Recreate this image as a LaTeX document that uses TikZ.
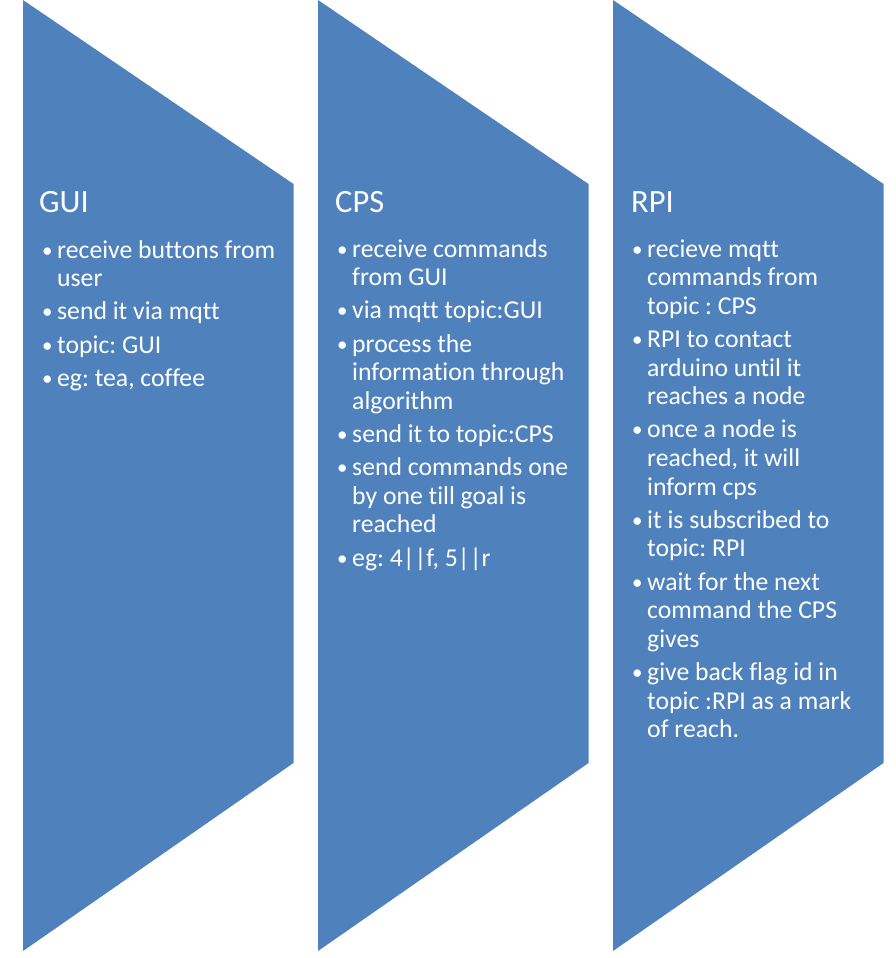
\documentclass[tikz,border=0pt]{standalone}
\usepackage{fontspec}
\setmainfont{Carlito}[Ligatures={NoCommon,NoRare,NoContextual}]
\definecolor{chev}{HTML}{4F81BD}
\frenchspacing
\newcommand\bitem[1]{\par\hangindent=15pt\hangafter=1\noindent\makebox[15pt][l]{\raisebox{1pt}{\fontsize{21}{21}\selectfont\textbullet}}#1\par}
\newcommand\colbody[1]{\vtop{\hsize=250pt\parindent=0pt\parskip=4.6pt\baselineskip=28.6pt\rightskip=0pt plus 1fil\let\\\newline #1}}
\tikzset{
  chevron/.style={fill=chev, draw=none},
  titletext/.style={anchor=base west, inner sep=0pt, text=white, font=\fontsize{32.5}{36}\selectfont},
  bodytext/.style={anchor=base west, inner sep=0pt, text=white, font=\fontsize{25.7}{28.6}\selectfont}
}
\begin{document}
\begin{tikzpicture}[x=1pt,y=-1pt]
\useasboundingbox (0,0) rectangle (896,958);
\foreach \L in {23,318,613}{
  \path[chevron] (\L,0) -- (\L+270.5,184) -- (\L+270.5,763) -- (\L,951) -- cycle;
}
\node[titletext] (gui) at (39,212) {GUI};
\node[titletext] (cps) at (335,212) {CPS};
\node[titletext] (rpi) at (631,212) {RPI};
\node[bodytext] (guibody) at (42,258) {\colbody{%
\bitem{receive buttons from\\user}%
\bitem{send it via mqtt}%
\bitem{topic: GUI}%
\bitem{eg: tea, coffee}}};
\node[bodytext] (cpsbody) at (337,257) {\colbody{%
\bitem{receive commands\\from GUI}%
\bitem{via mqtt topic:GUI}%
\bitem{process the\\information through\\algorithm}%
\bitem{send it to topic:CPS}%
\bitem{send commands one\\by one till goal is\\reached}%
\bitem{eg: 4||f, 5||r}}};
\node[bodytext] (rpibody) at (632,257) {\colbody{%
\bitem{recieve mqtt\\commands from\\topic : CPS}%
\bitem{RPI to contact\\arduino until it\\reaches a node}%
\bitem{once a node is\\reached, it will\\inform cps}%
\bitem{it is subscribed to\\topic: RPI}%
\bitem{wait for the next\\command the CPS\\gives}%
\bitem{give back flag id in\\topic :RPI as a mark\\of reach.}}};
\end{tikzpicture}
\end{document}
